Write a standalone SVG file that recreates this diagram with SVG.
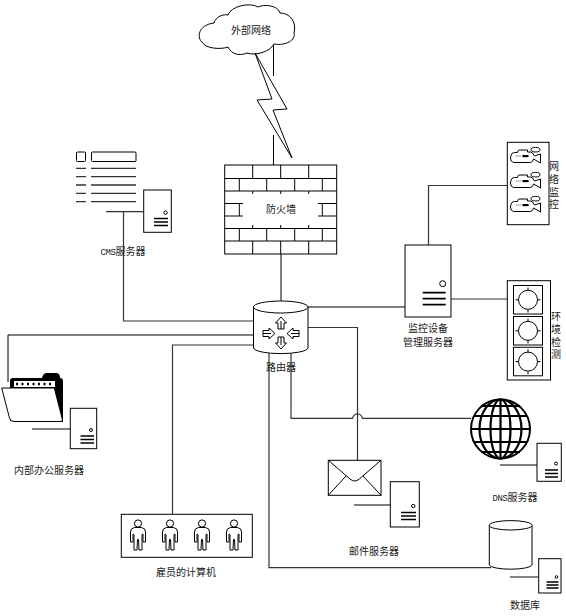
<svg xmlns="http://www.w3.org/2000/svg" xmlns:xlink="http://www.w3.org/1999/xlink" width="566" height="616" viewBox="0 0 566 616">
<style>
text{font-family:"Noto Sans CJK SC","Liberation Sans",sans-serif;font-size:10px;fill:#222;text-anchor:middle}
.m{font-family:"Liberation Mono",monospace;font-size:9px;letter-spacing:-0.400px}
.v{writing-mode:vertical-rl;letter-spacing:2.700px}
.s{fill:#fff;stroke:#000;stroke-width:1}
.n{fill:none;stroke:#000;stroke-width:1}
.g{fill:none;stroke:#333;stroke-width:1.200}
.b{fill:#000;stroke:none}
.w{fill:#fff;stroke:#000;stroke-width:1;stroke-linejoin:round}
</style>
<defs>
<g id="cam">
<path class="w" d="M2 6 Q0 8 0 11 Q0 15 3 15.500 H20 Q22 15.500 23 12 L30 16 V7 L24 9 Q22 5 20 5 H17 V3 H9 Q7 3 7 5.500 H4 Z"/>
<ellipse class="s" cx="25" cy="2.700" rx="4.500" ry="2.300"/>
<rect class="b" x="12" y="8" width="6" height="2.200"/>
<path d="M5 9 H11" stroke="#999" stroke-width="1" fill="none"/>
</g>
<g id="sen">
<rect class="s" x="0" y="0" width="29" height="28.500"/>
<circle class="n" cx="14.500" cy="14.300" r="9.500"/>
<path class="n" d="M14.500 2 V5 M14.500 24 V27 M2 14.300 H5 M24 14.300 H27"/>
</g>
<g id="person">
<circle class="n" cx="0" cy="0" r="3.600"/>
<path class="w" d="M-3.500 4 H3.500 Q7.500 4.500 7.500 8.500 V18.500 H5 V10.500 L4 11 V26.500 H1 L0.500 16 H-0.500 L-1 26.500 H-4 V11 L-5 10.500 V18.500 H-7.500 V8.500 Q-7.500 4.500 -3.500 4 Z"/>
</g>
<g id="arr">
<path class="w" d="M0 -16 L5.500 -10 H3 V-4 H-3 V-10 H-5.500 Z"/>
<path class="n" d="M0 -12 V-4"/>
</g>
</defs>

<g id="connectors">
<path class="n" d="M273.500 45 V76 M273.500 135 V168"/>
<path class="n" d="M281 254 V301"/>
<path class="g" d="M106 211.700 H143.700 M123.500 211.700 V321 H254"/>
<path class="g" d="M507 185.500 H428.500 V245"/>
<path class="g" d="M451 299 H507"/>
<path class="n" d="M308 307 H405"/>
<path class="g" d="M308 327.500 H357.500 V460"/>
<path class="g" d="M291 353 V418.300 H352.500 Q353.500 414 357.500 414 Q361.500 414 362.500 418.300 H471"/>
<path class="g" d="M269 353 V567.700 H491"/>
<path class="n" d="M254 335 H8 V382"/>
<path class="g" d="M254 345 H172.500 V514"/>
<path class="n" d="M32 429 H70.300"/>
<path class="n" d="M354 505 H390.300"/>
<path class="n" d="M500 465 H537"/>
<path class="g" d="M510 577 H538.700"/>
</g>

<g id="cloud">
<path class="s" d="M214 23 C216 16 224 14 228 15 C231 6 250 2 258 7 C263 4 278 5 280 13 C290 13 297 22 294 33 C296 40 286 46 274 44 C270 52 255 56 247 53 C240 56 232 55 228 47 C220 50 205 48 203 43 C196 38 198 25 214 23 Z"/>
<text x="251" y="34">外部网络</text>
</g>

<g id="lightning">
<path class="n" d="M255 53 L287 109 L273 110 L292 158 L257 100 L272 99 Z"/>
</g>

<g id="firewall">
<rect class="s" x="224.700" y="165" width="112" height="89" stroke-width="1.200"/>
<path class="n" d="M224.700 178.500 H336.700 M224.700 191 H336.700 M224.700 228.500 H336.700 M224.700 241 H336.700 M224.700 203.500 H243 M318 203.500 H336.700 M224.700 216 H243 M318 216 H336.700"/>
<path class="n" d="M252.700 165 V178.500 M280.700 165 V178.500 M308.700 165 V178.500 M239.300 178.500 V191 M266.700 178.500 V191 M294.700 178.500 V191 M322.300 178.500 V191 M252.700 191 V194 M280.700 191 V194 M308.700 191 V194 M239.300 203.500 V216 M322.300 203.500 V216 M252.700 225 V228.500 M280.700 225 V228.500 M308.700 225 V228.500 M239.300 228.500 V241 M266.700 228.500 V241 M294.700 228.500 V241 M322.300 228.500 V241 M252.700 241 V254 M280.700 241 V254 M308.700 241 V254"/>
<text x="281" y="213">防火墙</text>
</g>

<g id="cms-server">
<rect class="s" x="76.500" y="152" width="9" height="9.500" rx="1"/>
<rect class="s" x="91.500" y="152" width="44.500" height="9.500" rx="1"/>
<path d="M76 168.300 H86 M91 168.300 H136 M76 176.700 H86 M91 176.700 H136 M76 185 H86 M91 185 H136 M76 193.300 H86 M91 193.300 H136 M76 201.700 H86 M91 201.700 H136" stroke="#333" stroke-width="1.300" fill="none"/>
<rect class="s" x="143.700" y="190" width="27.600" height="42.300"/>
<circle class="n" cx="165.500" cy="212.700" r="1.700"/>
<path d="M154 218.500 H168 M154 222 H168 M154 225.500 H168" stroke="#000" stroke-width="1.500"/>
<text x="123" y="255"><tspan class="m">CMS</tspan>服务器</text>
</g>

<g id="network-monitor">
<rect class="s" x="507.300" y="142.300" width="41.700" height="82.400"/>
<use xlink:href="#cam" href="#cam" x="510.500" y="147"/>
<use xlink:href="#cam" href="#cam" x="510.500" y="172"/>
<use xlink:href="#cam" href="#cam" x="510.500" y="196"/>
<text class="v" x="554" y="187">网络监控</text>
</g>

<g id="monitor-server">
<rect class="s" x="405" y="245" width="46" height="72"/>
<circle class="n" cx="442.700" cy="283.700" r="3"/>
<path d="M422.700 292.700 H445.700 M422.700 298.700 H445.700 M422.700 304.700 H445.700" stroke="#000" stroke-width="1.800"/>
<text x="428" y="331.500">监控设备</text>
<text x="428" y="346">管理服务器</text>
</g>

<g id="env-monitor">
<rect class="s" x="507.300" y="280.700" width="43.200" height="99.300"/>
<use xlink:href="#sen" href="#sen" x="513.500" y="285.500"/>
<use xlink:href="#sen" href="#sen" x="513.500" y="316.500"/>
<use xlink:href="#sen" href="#sen" x="513.500" y="347.300"/>
<text class="v" x="556" y="337">环境检测</text>
</g>

<g id="router">
<path class="s" d="M253.500 307 V348 A27.300 6 0 0 0 308 348 V307"/>
<ellipse class="s" cx="280.700" cy="307" rx="27.300" ry="6"/>
<use xlink:href="#arr" href="#arr" transform="translate(281 333)"/>
<use xlink:href="#arr" href="#arr" transform="translate(281 333) rotate(180)"/>
<use xlink:href="#arr" href="#arr" transform="translate(259 333.500) rotate(90)"/>
<use xlink:href="#arr" href="#arr" transform="translate(303 333.500) rotate(-90)"/>
<text x="281" y="371">路由器</text>
</g>

<g id="office-server">
<path class="b" d="M10 421 V381 Q10 378 13 378 H42 Q43 373 47 373 H56 Q60 373 60 378 Q63 378 63 381 V422 Z"/>
<rect x="14" y="381" width="41" height="6" fill="#fff"/>
<path d="M16 384 H54" stroke="#000" stroke-width="2.400" stroke-dasharray="2 3.500"/>
<path class="w" d="M1.700 388 H54.300 L62.500 420 Q62.500 421.500 60 421.500 H14 Q10 421.500 9.500 418 Z"/>
<rect class="s" x="70.300" y="408.300" width="26.400" height="40.400" stroke="#333"/>
<circle class="n" cx="91" cy="430" r="1.500"/>
<path d="M80.500 436 H94 M80.500 439.500 H94 M80.500 443 H94" stroke="#000" stroke-width="1.500"/>
<text x="49" y="474">内部办公服务器</text>
</g>

<g id="employees">
<rect class="s" x="121.300" y="514.300" width="131" height="43"/>
<use xlink:href="#person" href="#person" x="138" y="523.500"/>
<use xlink:href="#person" href="#person" x="170" y="523.500"/>
<use xlink:href="#person" href="#person" x="202" y="523.500"/>
<use xlink:href="#person" href="#person" x="234" y="523.500"/>
<text x="186" y="576">雇员的计算机</text>
</g>

<g id="mail-server">
<rect class="s" x="328.300" y="460.300" width="52.700" height="35"/>
<path class="n" d="M328.300 460.300 L350 479 Q354.700 483 359.300 479 L381 460.300 M328.300 495.300 L346 476 M381 495.300 L363 476"/>
<rect class="s" x="390.300" y="481.700" width="29" height="45.300"/>
<circle class="n" cx="413.300" cy="506" r="1.700"/>
<path d="M401 512.500 H416 M401 516 H416 M401 519.500 H416" stroke="#000" stroke-width="1.600"/>
<text x="374" y="555">邮件服务器</text>
</g>

<g id="dns-server">
<circle cx="500.500" cy="429" r="29.500" fill="#fff" stroke="#000" stroke-width="2"/>
<path fill="none" stroke="#000" stroke-width="2.200" d="M500.500 399.500 V458.500 M471 429 H530 M474 416 H527 M474 442 H527 M481 406 H520 M481 452 H520"/>
<ellipse cx="500.500" cy="429" rx="10" ry="29.500" fill="none" stroke="#000" stroke-width="2.200"/>
<ellipse cx="500.500" cy="429" rx="21" ry="29.500" fill="none" stroke="#000" stroke-width="2.200"/>
<rect class="s" x="537" y="443.300" width="24.300" height="38"/>
<circle class="n" cx="556" cy="463.500" r="1.500"/>
<path d="M545 470 H558 M545 473.500 H558 M545 477 H558" stroke="#000" stroke-width="1.500"/>
<text x="515" y="501"><tspan class="m">DNS</tspan>服务器</text>
</g>

<g id="database">
<path class="s" d="M489.300 525.300 V565 A21.400 4.500 0 0 0 532 565 V525.300"/>
<ellipse class="s" cx="510.700" cy="525.300" rx="21.400" ry="4.700"/>
<rect class="s" x="538.700" y="558.700" width="22.300" height="34.300"/>
<circle class="n" cx="556.500" cy="577" r="1.300"/>
<path d="M546.500 582 H558.500 M546.500 585 H558.500 M546.500 588 H558.500" stroke="#000" stroke-width="1.400"/>
<text x="525" y="609">数据库</text>
</g>
</svg>
